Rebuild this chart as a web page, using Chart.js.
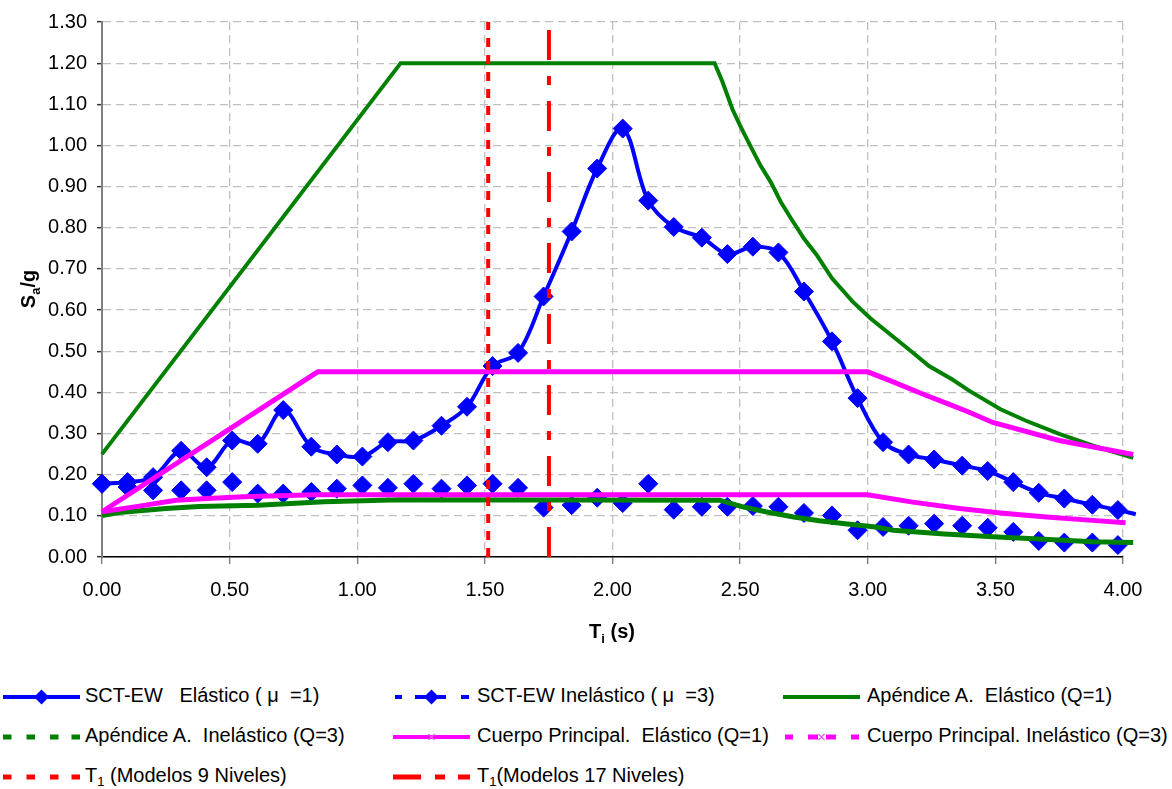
<!DOCTYPE html>
<html>
<head>
<meta charset="utf-8">
<script src="https://cdn.jsdelivr.net/npm/chart.js@4.4.0/dist/chart.umd.min.js"></script>
<style>
body { margin:0; background:#fff; width:1172px; height:789px; overflow:hidden; position:relative; font-family:"Liberation Sans", Arial, sans-serif; }
#wrap { position:absolute; left:0; top:0; width:1172px; height:650px; }
.item { position:absolute; height:30px; font-size:20px; line-height:30px; color:#000; white-space:pre; }
.item svg { position:absolute; left:0; top:0; }
.item span { position:absolute; top:0; }
sub { font-size:13px; vertical-align:-4px; line-height:0; }
</style>
</head>
<body>
<div id="wrap"><canvas id="myChart" width="1172" height="650"></canvas></div>
<div id="legend"></div>
<script>
// periods of the SCT-EW spectra (s)
const periods = [0.00, 0.10, 0.20, 0.31, 0.41, 0.51, 0.61, 0.71, 0.82, 0.92,
	1.02, 1.12, 1.22, 1.33, 1.43, 1.53, 1.63, 1.73, 1.84, 1.94,
	2.04, 2.14, 2.24, 2.35, 2.45, 2.55, 2.65, 2.75, 2.86, 2.96,
	3.06, 3.16, 3.26, 3.37, 3.47, 3.57, 3.67, 3.77, 3.88, 3.98, 4.05];
const sctElastic = [0.178, 0.182, 0.194, 0.258, 0.218, 0.283, 0.275, 0.357, 0.268, 0.249,
	0.244, 0.279, 0.283, 0.319, 0.365, 0.464, 0.496, 0.633, 0.791, 0.944,
	1.041, 0.866, 0.802, 0.776, 0.736, 0.754, 0.740, 0.645, 0.524, 0.386,
	0.279, 0.249, 0.237, 0.222, 0.209, 0.182, 0.156, 0.142, 0.127, 0.114, 0.104];
const sctInelastic = [0.178, 0.170, 0.162, 0.162, 0.162, 0.182, 0.154, 0.154, 0.158, 0.166,
	0.174, 0.168, 0.178, 0.166, 0.174, 0.178, 0.168, 0.120, 0.126, 0.144,
	0.131, 0.178, 0.115, 0.122, 0.122, 0.124, 0.122, 0.107, 0.101, 0.065,
	0.073, 0.076, 0.081, 0.076, 0.071, 0.061, 0.039, 0.035, 0.035, 0.029];

// Apendice A
const apAElasticT = [0, 1.17, 2.40, 2.43, 2.47, 2.50, 2.54, 2.58, 2.62, 2.66, 2.70, 2.75, 2.80,
	2.86, 2.94, 3.01, 3.09, 3.17, 3.24, 3.33, 3.40, 3.52, 3.62, 3.75, 3.88, 4.04];
const apAElastic = [0.25, 1.20, 1.20, 1.156, 1.088, 1.048, 0.999, 0.951, 0.911, 0.862, 0.822, 0.774, 0.734,
	0.677, 0.621, 0.580, 0.540, 0.500, 0.464, 0.432, 0.403, 0.359, 0.331, 0.299, 0.271, 0.241];
const apAInelasticT = [0, 0.08, 0.25, 0.38, 0.61, 0.87, 1.17, 2.42, 2.51, 2.60, 2.71, 2.81, 2.92,
	3.03, 3.10, 3.30, 3.49, 3.69, 3.88, 4.04];
const apAInelastic = [0.101, 0.109, 0.118, 0.123, 0.126, 0.134, 0.139, 0.138, 0.122, 0.110, 0.097, 0.088, 0.080,
	0.073, 0.065, 0.056, 0.049, 0.043, 0.037, 0.035];

// Cuerpo principal
const cpElasticT = [0, 0.845, 3.00, 3.09, 3.22, 3.32, 3.40, 3.49, 3.75, 4.04];
const cpElastic = [0.11, 0.45, 0.45, 0.428, 0.395, 0.371, 0.351, 0.327, 0.283, 0.249];
const cpInelasticT = [0, 0.14, 0.29, 0.41, 0.58, 0.84, 3.00, 3.17, 3.36, 3.52, 3.70, 3.88, 4.01, 4.04];
const cpInelastic = [0.110, 0.123, 0.138, 0.142, 0.147, 0.151, 0.151, 0.134, 0.118, 0.107, 0.097, 0.089, 0.083, 0.080];

// fundamental periods
const t1Models9 = 1.513;
const t1Models17 = 1.751;

const xTicks = [0, 0.5, 1.0, 1.5, 2.0, 2.5, 3.0, 3.5, 4.0];

function pts(xs, ys) {
	return xs.map(function (x, i) { return { x: x, y: ys[i] }; });
}

const BLUE = '#0000ff', GREEN = '#008000', MAGENTA = '#ff00ff', RED = '#ff0000';
const tickFont = { family: '"Liberation Sans", Arial, sans-serif', size: 20 };

// axis titles with subscripts
const axisTitles = {
	id: 'axisTitles',
	afterDraw(chart) {
		const ctx = chart.ctx;
		const big = 'bold 20px "Liberation Sans", Arial, sans-serif';
		const small = 'bold 13px "Liberation Sans", Arial, sans-serif';
		function draw(parts, cx, cy) {
			let w = 0;
			parts.forEach(function (p) { ctx.font = p.sub ? small : big; w += ctx.measureText(p.t).width; });
			let x = cx - w / 2;
			parts.forEach(function (p) {
				ctx.font = p.sub ? small : big;
				ctx.fillText(p.t, x, cy + (p.sub ? 5 : 0));
				x += ctx.measureText(p.t).width;
			});
		}
		ctx.save();
		ctx.fillStyle = '#000';
		ctx.textBaseline = 'alphabetic';
		draw([{ t: 'T' }, { t: 'i', sub: true }, { t: ' (s)' }], 612, 638);
		ctx.translate(35, 289);
		ctx.rotate(-Math.PI / 2);
		draw([{ t: 'S' }, { t: 'a', sub: true }, { t: '/g' }], 0, 0);
		ctx.restore();
	}
};

const ctx = document.getElementById('myChart');
const myChart = new Chart(ctx, {
	type: 'scatter',
	data: {
		datasets: [
			{
				label: 'SCT-EW Elástico', data: pts(periods, sctElastic), showLine: true, tension: 0.35,
				borderColor: BLUE, borderWidth: 4, backgroundColor: BLUE, pointStyle: 'rectRot',
				pointRadius: function (c) { return c.dataIndex === sctElastic.length - 1 ? 0 : 9.5; },
				pointBorderWidth: 1, order: 8, clip: false
			},
			{
				label: 'SCT-EW Inelástico', data: pts(periods, sctInelastic), showLine: false,
				borderColor: BLUE, backgroundColor: BLUE, pointStyle: 'rectRot', pointRadius: 9.5,
				pointBorderWidth: 1, order: 7, clip: false
			},
			{
				label: 'Apéndice A. Elástico', data: pts(apAElasticT, apAElastic), showLine: true,
				borderColor: GREEN, borderWidth: 4, pointRadius: 0, order: 6, clip: false
			},
			{
				label: 'Apéndice A. Inelástico', data: pts(apAInelasticT, apAInelastic), showLine: true,
				borderColor: GREEN, borderWidth: 5, pointRadius: 0, order: 5, clip: false
			},
			{
				label: 'Cuerpo Principal. Elástico', data: pts(cpElasticT, cpElastic), showLine: true,
				borderColor: MAGENTA, borderWidth: 5, pointRadius: 0, order: 4, clip: false
			},
			{
				label: 'Cuerpo Principal. Inelástico', data: pts(cpInelasticT, cpInelastic), showLine: true,
				borderColor: MAGENTA, borderWidth: 5, pointRadius: 0, order: 3, clip: false
			},
			{
				label: 'T1 9', data: [{ x: t1Models9, y: 0 }, { x: t1Models9, y: 1.3 }], showLine: true,
				borderColor: RED, borderWidth: 4, borderDash: [9, 8], pointRadius: 0, order: 2, clip: false
			},
			{
				label: 'T1 17', data: [{ x: t1Models17, y: 0 }, { x: t1Models17, y: 1.3 }], showLine: true,
				borderColor: RED, borderWidth: 4, borderDash: [30, 16, 9, 16], pointRadius: 0, order: 1, clip: false
			}
		]
	},
	options: {
		responsive: false,
		animation: false,
		layout: { padding: { top: 19, right: 49, left: 0, bottom: 0 } },
		plugins: { legend: { display: false }, tooltip: { enabled: false } },
		scales: {
			x: {
				type: 'linear', min: 0, max: 4,
				afterBuildTicks: function (s) { s.ticks = xTicks.map(function (v) { return { value: v }; }); },
				afterFit: function (s) { s.height = 93; },
				ticks: { font: tickFont, color: '#000', padding: 14, maxRotation: 0, autoSkip: false,
					callback: function (v) { return Number(v).toFixed(2); } },
				grid: { color: '#c0c0c0', lineWidth: 1.3, tickLength: 7, tickColor: '#808080', tickWidth: 1.5 },
				border: { color: '#000', width: 1.5, dash: [8, 5] }
			},
			y: {
				min: 0, max: 1.3,
				afterFit: function (s) { s.width = 102; },
				ticks: { stepSize: 0.1, font: tickFont, color: '#000', padding: 10,
					callback: function (v) { return Number(v).toFixed(2); } },
				grid: { color: '#c0c0c0', lineWidth: 1.3, tickLength: 5, tickColor: '#333', tickWidth: 1.5 },
				border: { color: '#808080', width: 2, dash: [8, 5] }
			}
		}
	},
	plugins: [axisTitles]
});

// legend below the chart, Excel style
function seg(a, b, y, color, w) {
	return '<line x1="' + a + '" y1="' + y + '" x2="' + b + '" y2="' + y + '" stroke="' + color + '" stroke-width="' + w + '"/>';
}
function diamond(cx, cy, r, color) {
	return '<polygon points="' + (cx - r) + ',' + cy + ' ' + cx + ',' + (cy - r) + ' ' + (cx + r) + ',' + cy + ' ' + cx + ',' + (cy + r) + '" fill="' + color + '"/>';
}
function cross(cx, cy, color) {
	return '<path d="M' + (cx - 3) + ' ' + (cy - 3) + 'L' + (cx + 3) + ' ' + (cy + 3) + 'M' + (cx + 3) + ' ' + (cy - 3) + 'L' + (cx - 3) + ' ' + (cy + 3) + '" stroke="#e060e0" stroke-width="1.2"/>';
}
const Y = 17;
const dashed = function (c, w) { return seg(0, 8.5, Y, c, w) + seg(23.5, 32, Y, c, w) + seg(47, 55.5, Y, c, w) + seg(68.5, 77, Y, c, w); };
const legendItems = [
	{ x: 3, tx: 85, top: 680, svg: seg(0, 77, Y, BLUE, 4) + diamond(38.5, Y, 7.5, BLUE), html: 'SCT-EW   Elástico ( μ  =1)' },
	{ x: 393, tx: 477, top: 680, svg: seg(2, 9, Y, BLUE, 4) + seg(22, 34, Y, BLUE, 4) + diamond(38.5, Y, 7.5, BLUE) + seg(43, 53, Y, BLUE, 4) + seg(68, 76, Y, BLUE, 4), html: 'SCT-EW Inelástico ( μ  =3)' },
	{ x: 783, tx: 867, top: 680, svg: seg(0, 77, Y, GREEN, 4), html: 'Apéndice A.  Elástico (Q=1)' },
	{ x: 3, tx: 85, top: 720, svg: dashed(GREEN, 5), html: 'Apéndice A.  Inelástico (Q=3)' },
	{ x: 393, tx: 477, top: 720, svg: seg(0, 77, Y, MAGENTA, 4) + cross(38.5, Y), html: 'Cuerpo Principal.  Elástico (Q=1)' },
	{ x: 783, tx: 867, top: 720, svg: seg(2, 10, Y, MAGENTA, 5) + seg(25, 35, Y, MAGENTA, 5) + cross(38.5, Y) + seg(43, 53, Y, MAGENTA, 5) + seg(68, 76, Y, MAGENTA, 5), html: 'Cuerpo Principal. Inelástico (Q=3)' },
	{ x: 3, tx: 85, top: 760, svg: dashed(RED, 5), html: 'T<sub>1</sub> (Modelos 9 Niveles)' },
	{ x: 393, tx: 477, top: 760, svg: seg(0, 28, Y, RED, 5) + seg(42, 52, Y, RED, 5) + seg(65, 77, Y, RED, 5), html: 'T<sub>1</sub>(Modelos 17 Niveles)' }
];
const legendEl = document.getElementById('legend');
legendItems.forEach(function (it) {
	const d = document.createElement('div');
	d.className = 'item';
	d.style.left = it.x + 'px';
	d.style.top = it.top + 'px';
	d.style.width = (it.tx - it.x + 320) + 'px';
	d.innerHTML = '<svg width="80" height="30">' + it.svg + '</svg><span style="left:' + (it.tx - it.x) + 'px">' + it.html + '</span>';
	legendEl.appendChild(d);
});
</script>
</body>
</html>
